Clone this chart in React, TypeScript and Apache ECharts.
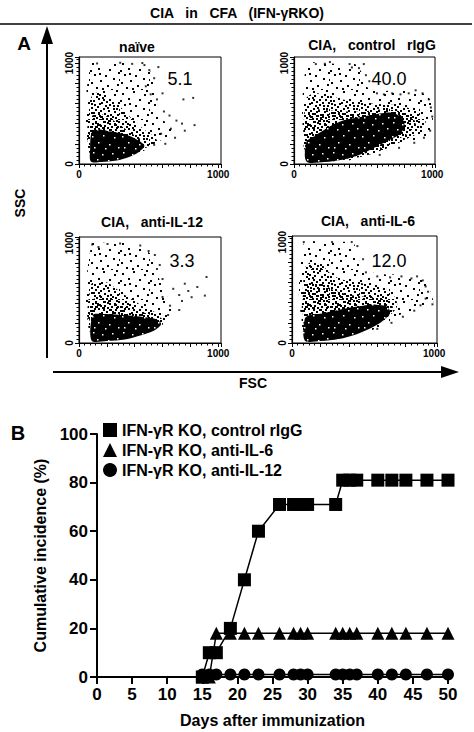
import React, { useEffect, useRef } from "react";
import * as echarts from "echarts";

const FONT = "'Liberation Sans', Arial, Helvetica, sans-serif";

// ---------- Panel B data ----------
const days = [15, 16, 17, 19, 21, 23, 26, 28, 29, 30, 34, 35, 36, 37, 40, 42, 44, 47, 50];
const controlIgG = [0, 10, 10, 20, 40, 60, 71, 71, 71, 71, 71, 81, 81, 81, 81, 81, 81, 81, 81];
const antiIL6 = [0, 0, 18, 18, 18, 18, 18, 18, 18, 18, 18, 18, 18, 18, 18, 18, 18, 18, 18];
const antiIL12 = [1, 1, 1, 1, 1, 1, 1, 1, 1, 1, 1, 1, 1, 1, 1, 1, 1, 1, 1];
const seriesNames = ["IFN-γR KO, control rIgG", "IFN-γR KO, anti-IL-6", "IFN-γR KO, anti-IL-12"];
const xTicksB = [0, 5, 10, 15, 20, 25, 30, 35, 40, 45, 50];
const yTicksB = [0, 20, 40, 60, 80, 100];

// ---------- Panel A data (FSC, SSC): density regions ----------
const panelTitles = ["naïve", "CIA,   control   rIgG", "CIA,   anti-IL-12", "CIA,   anti-IL-6"];
const panelPercents = ["5.1", "40.0", "3.3", "12.0"];

const outer1 = [[80,250],[85,990],[200,1000],[330,1000],[450,990],[520,900],[540,760],[560,600],[580,450],[650,400],[700,320],[640,260],[560,220],[450,150]];
const mid1 = [[80,150],[80,620],[110,700],[180,700],[260,620],[330,520],[400,420],[470,340],[540,270],[560,220],[480,160],[350,150]];
const dense1 = [[80,100],[80,450],[130,500],[200,470],[280,400],[360,320],[440,250],[500,200],[480,140],[380,90],[250,60]];
const core1 = [[85,25],[160,20],[270,35],[360,70],[430,120],[470,180],[430,230],[360,280],[280,310],[200,330],[130,340],[90,310],[80,150]];
const dots1 = [[570,960],[540,850],[505,930],[470,980],[600,700],[560,640],[610,520],[650,480],[700,430],[740,400],[830,385],[750,640],[820,655],[760,330],[690,260],[620,200],[540,190],[590,300],[660,350],[480,770],[515,690],[455,1000],[382,992],[296,1003],[130,996]];

const outer2 = [[85,200],[90,990],[200,1000],[330,990],[440,990],[500,880],[530,760],[620,720],[720,730],[850,720],[960,680],[1000,560],[1000,380],[960,280],[850,230],[700,150],[500,70],[300,30]];
const mid2 = [[85,150],[85,640],[150,700],[250,680],[350,640],[460,620],[560,600],[660,590],[760,580],[860,540],[940,470],[950,380],[890,300],[800,240],[700,170],[560,100],[400,50],[200,30]];
const dense2 = [[85,120],[85,480],[150,540],[260,530],[380,520],[500,520],[620,540],[740,530],[840,480],[880,400],[840,320],[760,250],[640,170],[480,90],[300,40]];
const core2 = [[90,25],[220,20],[360,45],[480,95],[580,160],[680,230],[770,300],[800,390],[770,470],[700,510],[620,500],[540,480],[460,460],[380,440],[300,400],[220,340],[150,280],[90,220]];
const dots2 = [[158,990],[223,993],[402,990],[419,957],[470,950],[520,880],[545,820],[600,700],[650,690],[710,700],[770,690],[830,700],[880,730],[930,700],[975,640],[990,560],[1000,470],[985,330],[940,260],[870,210],[760,160],[620,90],[505,990],[260,1010]];

const outer3 = [[85,200],[90,990],[200,1000],[320,1000],[430,960],[520,880],[560,700],[600,560],[650,420],[700,300],[620,220],[500,150]];
const mid3 = [[85,150],[85,580],[140,620],[210,600],[270,540],[340,470],[410,410],[480,350],[560,300],[620,250],[580,180],[450,140]];
const dense3 = [[85,100],[85,420],[150,450],[230,420],[310,370],[400,330],[500,290],[590,250],[600,180],[500,110],[350,60]];
const core3 = [[90,25],[200,20],[330,35],[440,75],[540,125],[590,190],[550,240],[460,260],[360,275],[260,285],[170,290],[100,280]];
const dots3 = [[95,985],[140,960],[205,990],[295,995],[440,975],[500,920],[545,880],[580,780],[600,640],[677,542],[760,593],[785,520],[809,458],[904,474],[916,660],[720,480],[654,373],[720,330],[740,420],[640,280],[850,560],[600,460],[560,740]];

const outer4 = [[85,200],[85,1000],[200,1000],[330,1000],[430,990],[460,880],[490,760],[560,700],[640,680],[760,680],[900,640],[970,520],[990,380],[900,330],[760,280],[650,180],[450,90]];
const mid4 = [[85,150],[85,720],[130,800],[200,790],[260,700],[330,640],[420,610],[500,590],[580,570],[660,530],[720,460],[740,370],[700,290],[600,190],[450,100],[300,60],[150,40]];
const dense4 = [[85,100],[85,560],[140,620],[220,580],[300,520],[400,480],[500,460],[600,450],[680,420],[710,340],[660,250],[550,160],[400,80],[250,40]];
const core4 = [[90,25],[200,20],[330,40],[450,85],[560,150],[640,220],[690,300],[670,360],[590,380],[500,370],[400,350],[300,320],[200,290],[130,280],[90,240]];
const dots4 = [[83,1000],[282,1000],[420,1000],[460,960],[500,830],[520,700],[600,660],[690,650],[770,660],[840,640],[880,660],[920,620],[957,508],[988,383],[940,440],[904,373],[860,320],[780,260],[700,200],[600,140],[940,560]];

const outers = [outer1, outer2, outer3, outer4];
const mids = [mid1, mid2, mid3, mid4];
const denses = [dense1, dense2, dense3, dense4];
const cores = [core1, core2, core3, core4];
const dots = [dots1, dots2, dots3, dots4];

// speckle textures (style only)
const TILE = 30;
const sparseTile = [[2,3],[13,1],[24,4],[8,8],[19,9],[28,12],[4,14],[15,15],[23,18],[10,20],[1,22],[27,24],[17,25],[6,27],[21,29],[12,28],[26,0],[0,10],[9,13],[29,19]];
const midTile = [[5,1],[9,4],[17,2],[21,6],[28,1],[0,6],[6,6],[12,7],[25,9],[3,10],[16,11],[22,12],[11,12],[27,15],[7,16],[19,14],[1,17],[13,18],[24,21],[8,22],[18,20],[29,23],[4,25],[14,23],[20,24],[10,26],[25,27],[2,29],[16,28],[28,29],[7,3],[14,5],[26,18],[5,19],[11,29],[22,26],[19,0],[1,13],[23,15],[9,25],[13,9],[27,6],[17,17],[3,22],[20,28]];
const coreSpecks = [[3,2],[12,4],[22,3],[7,9],[18,10],[27,8],[2,16],[13,15],[24,17],[8,22],[19,24],[28,27],[4,27],[15,28]];

function makeTile(bg: string | null, fg: string, pts: number[][], size: number, dx = 0, dy = 0) {
  const c = document.createElement("canvas");
  c.width = TILE;
  c.height = TILE;
  const ctx = c.getContext("2d")!;
  if (bg) {
    ctx.fillStyle = bg;
    ctx.fillRect(0, 0, TILE, TILE);
  }
  ctx.fillStyle = fg;
  pts.forEach(([x, y]) => ctx.fillRect((x + dx) % TILE, (y + dy) % TILE, size, size));
  return { image: c.toDataURL(), repeat: "repeat", imageWidth: TILE, imageHeight: TILE };
}

// layout of the four dot-plot frames
const frames = [
  { left: 79, top: 57, width: 142, height: 107, tx: 137, ty: 47, px: 180, py: 79 },
  { left: 294, top: 57, width: 141, height: 107, tx: 372, ty: 45, px: 389, py: 79 },
  { left: 79, top: 237, width: 142, height: 106, tx: 152, ty: 222, px: 182, py: 261 },
  { left: 292, top: 236, width: 145, height: 107, tx: 368, ty: 221, px: 389, py: 261 },
];

export default function App() {
  const ref = useRef<HTMLDivElement>(null);
  useEffect(() => {
    document.body.style.margin = "0";
    const chart = echarts.init(ref.current!, null, { renderer: "svg" });

    const sparseFill = makeTile(null, "#000", sparseTile, 2);
    const midFill = makeTile(null, "#000", midTile, 2);
    const denseFill = makeTile(null, "#000", midTile, 2, 15, 8);
    const coreFill = makeTile("#000", "#fff", coreSpecks, 1.5);

    const grids: any[] = [];
    const xAxes: any[] = [];
    const yAxes: any[] = [];
    const series: any[] = [];
    const graphics: any[] = [];

    frames.forEach((f, i) => {
      grids.push({ left: f.left, top: f.top, width: f.width, height: f.height, show: true, borderColor: "#000", borderWidth: 1, backgroundColor: "transparent" });
      const common = {
        gridIndex: i,
        type: "value",
        min: 0,
        interval: 200,
        axisLine: { show: true, lineStyle: { color: "#000", width: 1.2 } },
        axisTick: { show: true, inside: false, length: 4, lineStyle: { color: "#000", width: 1 } },
        minorTick: { show: true, splitNumber: 5, length: 2.5, lineStyle: { color: "#000", width: 1 } },
        splitLine: { show: false },
        minorSplitLine: { show: false },
      };
      xAxes.push({
        ...common,
        max: 1020,
        axisLabel: { fontSize: 10, fontWeight: "bold", color: "#000", fontFamily: FONT, margin: 5, formatter: (v: number) => (v === 0 || v === 1000 ? String(v) : "") },
      });
      yAxes.push({
        ...common,
        max: 1060,
        axisLabel: { fontSize: 10, fontWeight: "bold", color: "#000", fontFamily: FONT, margin: 5, rotate: 90, formatter: (v: number) => (v === 0 || v === 1000 ? String(v) : "") },
      });
      const mkPoly = (pts: number[][], fill: any, z: number) => ({
        type: "custom",
        xAxisIndex: i,
        yAxisIndex: i,
        data: [[0, 0]],
        silent: true,
        clip: true,
        z,
        renderItem: (_p: any, api: any) => ({
          type: "polygon",
          shape: { points: pts.map((p) => api.coord(p)), smooth: 0.3 },
          style: { fill },
        }),
      });
      series.push(mkPoly(outers[i], sparseFill, 1));
      series.push(mkPoly(mids[i], midFill, 2));
      series.push(mkPoly(denses[i], denseFill, 3));
      series.push(mkPoly(cores[i], coreFill, 4));
      series.push({ type: "scatter", xAxisIndex: i, yAxisIndex: i, data: dots[i], symbol: "rect", symbolSize: 2, itemStyle: { color: "#000" }, silent: true, z: 5 });
      graphics.push({ type: "text", z: 100, x: f.tx, y: f.ty, style: { text: panelTitles[i], fontSize: 14, fontWeight: "bold", fontFamily: FONT, fill: "#000", textAlign: "center", textVerticalAlign: "middle" } });
      graphics.push({ type: "text", z: 100, x: f.px, y: f.py, style: { text: panelPercents[i], fontSize: 18, fontFamily: FONT, fill: "#000", textAlign: "center", textVerticalAlign: "middle" } });
    });

    // Panel B
    const bi = 4;
    grids.push({ left: 97, top: 434, width: 351, height: 243 });
    const axisStyleB = {
      axisLine: { show: true, lineStyle: { color: "#000", width: 2 } },
      axisTick: { show: true, inside: false, length: 7, lineStyle: { color: "#000", width: 2 } },
      splitLine: { show: false },
    };
    xAxes.push({
      gridIndex: bi, type: "value", min: xTicksB[0], max: xTicksB[xTicksB.length - 1], interval: 5, ...axisStyleB,
      axisLabel: { fontSize: 17, fontWeight: "bold", color: "#000", fontFamily: FONT, margin: 9 },
      name: "Days after immunization", nameLocation: "middle", nameGap: 35,
      nameTextStyle: { fontSize: 16, fontWeight: "bold", color: "#000", fontFamily: FONT },
    });
    yAxes.push({
      gridIndex: bi, type: "value", min: yTicksB[0], max: yTicksB[yTicksB.length - 1], interval: 20, ...axisStyleB,
      axisLabel: { fontSize: 17, fontWeight: "bold", color: "#000", fontFamily: FONT, margin: 9 },
      name: "Cumulative incidence (%)", nameLocation: "middle", nameGap: 44,
      nameTextStyle: { fontSize: 16, fontWeight: "bold", color: "#000", fontFamily: FONT },
    });
    const vals = [controlIgG, antiIL6, antiIL12];
    const syms = ["rect", "triangle", "circle"];
    const sizes = [13, 13, 12];
    vals.forEach((v, k) => {
      series.push({
        type: "line", name: seriesNames[k], xAxisIndex: bi, yAxisIndex: bi,
        data: days.map((d, j) => [d, v[j]]),
        symbol: syms[k], symbolSize: sizes[k], showSymbol: true,
        lineStyle: { color: "#000", width: 1.5 }, itemStyle: { color: "#000" },
        z: 5 + (2 - k),
      });
    });

    // static annotations
    graphics.push(
      { type: "text", x: 237, y: 13, style: { text: "CIA   in   CFA   (IFN-γRKO)", fontSize: 14, fontWeight: "bold", fontFamily: FONT, fill: "#000", textAlign: "center", textVerticalAlign: "middle" } },
      { type: "line", shape: { x1: 0, y1: 24, x2: 472, y2: 24 }, style: { stroke: "#000", lineWidth: 1.5 } },
      { type: "text", x: 24, y: 43, style: { text: "A", fontSize: 19, fontWeight: "bold", fontFamily: FONT, fill: "#000", textAlign: "center", textVerticalAlign: "middle" } },
      { type: "line", shape: { x1: 47, y1: 40, x2: 47, y2: 358 }, style: { stroke: "#000", lineWidth: 2 } },
      { type: "polygon", shape: { points: [[41, 44], [53, 44], [47, 26]] }, style: { fill: "#000" } },
      { type: "line", shape: { x1: 53, y1: 372, x2: 445, y2: 372 }, style: { stroke: "#000", lineWidth: 2 } },
      { type: "polygon", shape: { points: [[441, 366], [441, 378], [459, 372]] }, style: { fill: "#000" } },
      { type: "text", x: 20, y: 203, rotation: Math.PI / 2, style: { text: "SSC", fontSize: 14, fontWeight: "bold", fontFamily: FONT, fill: "#000", textAlign: "center", textVerticalAlign: "middle" } },
      { type: "text", x: 253, y: 383, style: { text: "FSC", fontSize: 14, fontWeight: "bold", fontFamily: FONT, fill: "#000", textAlign: "center", textVerticalAlign: "middle" } },
      { type: "text", x: 18, y: 433, style: { text: "B", fontSize: 20, fontWeight: "bold", fontFamily: FONT, fill: "#000", textAlign: "center", textVerticalAlign: "middle" } },
    );

    chart.setOption({
      animation: false,
      backgroundColor: "#fff",
      grid: grids,
      xAxis: xAxes,
      yAxis: yAxes,
      series,
      legend: {
        show: true, orient: "vertical", left: 103, top: 422, itemGap: 4, itemWidth: 14, itemHeight: 14, padding: 0, itemStyle: { color: "#000" },
        textStyle: { fontSize: 16, fontWeight: "bold", color: "#000", fontFamily: FONT },
        data: [
          { name: seriesNames[0], icon: "rect" },
          { name: seriesNames[1], icon: "triangle" },
          { name: seriesNames[2], icon: "circle" },
        ],
      },
      graphic: graphics,
    });
    return () => chart.dispose();
  }, []);
  return <div ref={ref} style={{ width: 474, height: 732 }} />;
}
